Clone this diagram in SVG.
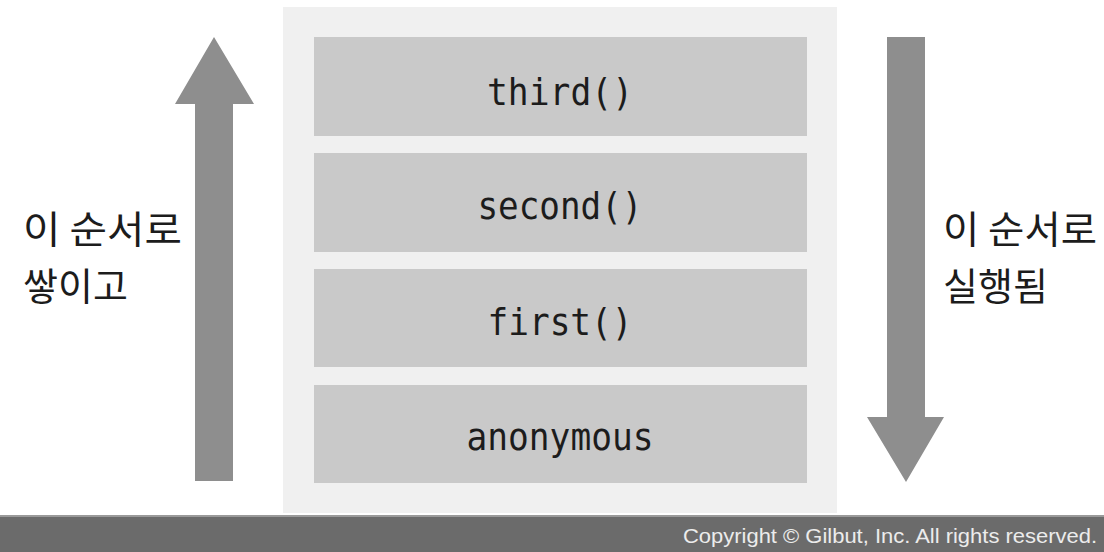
<svg xmlns="http://www.w3.org/2000/svg" width="1104" height="552" viewBox="0 0 1104 552">
<style>
.box{fill:#c9c9c9}
.code{font-family:"DejaVu Sans Mono","Liberation Mono",monospace;font-size:38px;fill:#1c1c1c;text-anchor:middle}
.ko{font-family:"Noto Sans CJK KR","Noto Sans",sans-serif;font-size:38px;fill:#1c1c1c}
.arrow{fill:#8e8e8e}
</style>
<rect width="1104" height="552" fill="#ffffff"/>
<rect id="panel" x="283" y="7" width="554" height="506" fill="#f0f0f0"/>
<g id="node-third"><rect class="box" x="314" y="37" width="493" height="99"/><text class="code" x="560" y="105" textLength="146" lengthAdjust="spacingAndGlyphs">third()</text></g>
<g id="node-second"><rect class="box" x="314" y="153" width="493" height="99"/><text class="code" x="560" y="219" textLength="165" lengthAdjust="spacingAndGlyphs">second()</text></g>
<g id="node-first"><rect class="box" x="314" y="269" width="493" height="98"/><text class="code" x="560" y="335" textLength="145" lengthAdjust="spacingAndGlyphs">first()</text></g>
<g id="node-anonymous"><rect class="box" x="314" y="385" width="493" height="98"/><text class="code" x="560" y="450" textLength="187" lengthAdjust="spacingAndGlyphs">anonymous</text></g>
<g id="connectors">
<polygon class="arrow" points="214,37 254,104 233,104 233,481 195,481 195,104 175,104"/>
<polygon class="arrow" points="887,37 925,37 925,417 944,417 906,482 867,417 887,417"/>
</g>
<g id="label-left"><text class="ko" x="23" y="243" textLength="159" lengthAdjust="spacingAndGlyphs">이 순서로</text><text class="ko" x="23" y="300">쌓이고</text></g>
<g id="label-right"><text class="ko" x="943" y="243" textLength="154" lengthAdjust="spacingAndGlyphs">이 순서로</text><text class="ko" x="943" y="300">실행됨</text></g>
<g id="footer"><rect x="0" y="515" width="1104" height="37" fill="#6b6b6b"/><rect x="0" y="515" width="1104" height="2" fill="#9a9a9a"/><text x="1097" y="543" text-anchor="end" font-family="Liberation Sans, Arial, sans-serif" font-size="21" fill="#ececec" textLength="414" lengthAdjust="spacingAndGlyphs">Copyright © Gilbut, Inc. All rights reserved.</text></g>
</svg>
